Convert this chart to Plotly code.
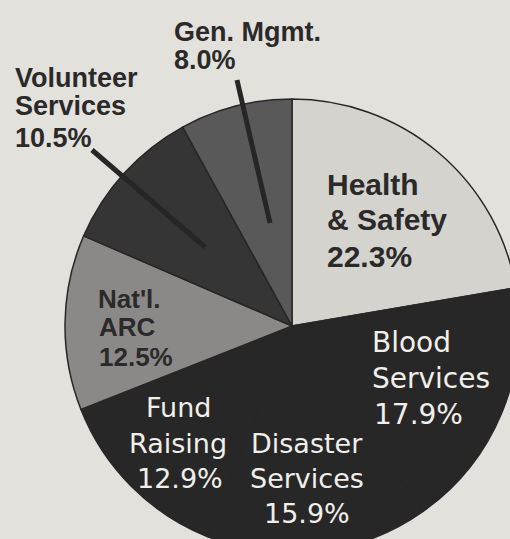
import plotly.graph_objects as go

# ---- data ----
categories = ["Health & Safety", "Blood Services", "Disaster Services", "Fund Raising",
              "Nat'l. ARC", "Volunteer Services", "Gen. Mgmt."]
shares = [22.3, 17.9, 15.9, 12.9, 12.5, 10.5, 8.0]
slice_colors = ["#d5d3ce", "#282728", "#282728", "#282728", "#8b8987", "#363536", "#5a5959"]

# ---- figure geometry ----
W, H = 520, 554
CX, CY, R = 292, 326, 227          # pie centre / radius in pixels (from top-left)
BG = "#e3e1dc"
DARK_TXT = "#2b2a2a"
LIGHT_TXT = "#f1efea"

def px(x):
    return x / W

def py(y):
    return 1 - y / H

fig = go.Figure(go.Pie(
    labels=categories,
    values=shares,
    sort=False,
    direction="clockwise",
    rotation=0,
    textinfo="none",
    hoverinfo="label+percent",
    marker=dict(colors=slice_colors, line=dict(color="#282728", width=1.5)),
    domain=dict(x=[px(CX - R), px(CX + R)], y=[py(CY + R), py(CY - R)]),
    showlegend=False,
))

# label lines: (text, x, y, anchor, size, bold, colour, family)
BOLD = "Liberation Sans, Arial, sans-serif"
REG = "DejaVu Sans, sans-serif"
label_lines = [
    ("Gen. Mgmt.", 172, 32, "left", 27, True, DARK_TXT, BOLD),
    ("8.0%", 172, 60, "left", 27, True, DARK_TXT, BOLD),
    ("Volunteer", 13, 78, "left", 27, True, DARK_TXT, BOLD),
    ("Services", 13, 106, "left", 27, True, DARK_TXT, BOLD),
    ("10.5%", 13, 138, "left", 27, True, DARK_TXT, BOLD),
    ("Health", 325, 184, "left", 30, True, DARK_TXT, BOLD),
    ("& Safety", 325, 219, "left", 30, True, DARK_TXT, BOLD),
    ("22.3%", 325, 256, "left", 30, True, DARK_TXT, BOLD),
    ("Nat'l.", 96, 299, "left", 26, True, DARK_TXT, BOLD),
    ("ARC", 97, 327, "left", 26, True, DARK_TXT, BOLD),
    ("12.5%", 97, 357, "left", 26, True, DARK_TXT, BOLD),
    ("Blood", 370, 342, "left", 28, False, LIGHT_TXT, REG),
    ("Services", 370, 378, "left", 28, False, LIGHT_TXT, REG),
    ("17.9%", 372, 414, "left", 28, False, LIGHT_TXT, REG),
    ("Fund", 178, 407, "center", 27, False, LIGHT_TXT, REG),
    ("Raising", 178, 443, "center", 27, False, LIGHT_TXT, REG),
    ("12.9%", 180, 478, "center", 27, False, LIGHT_TXT, REG),
    ("Disaster", 307, 443, "center", 27, False, LIGHT_TXT, REG),
    ("Services", 307, 478, "center", 27, False, LIGHT_TXT, REG),
    ("15.9%", 307, 513, "center", 27, False, LIGHT_TXT, REG),
]

annotations = []
for text, x, y, anchor, size, bold, color, fam in label_lines:
    annotations.append(dict(
        text=text, x=px(x), y=py(y), xref="paper", yref="paper",
        xanchor=anchor, yanchor="middle", showarrow=False,
        font=dict(family=fam, size=size, color=color, weight="bold" if bold else "normal"),
    ))

# leader lines from outside labels into their slices
leaders = [((92, 150), (205, 247)), ((237, 80), (270, 223))]
shapes = []
for (x0, y0), (x1, y1) in leaders:
    shapes.append(dict(type="line", xref="paper", yref="paper",
                       x0=px(x0), y0=py(y0), x1=px(x1), y1=py(y1),
                       line=dict(color="#272626", width=5)))

fig.update_layout(
    width=W, height=H,
    margin=dict(l=0, r=0, t=0, b=0),
    paper_bgcolor=BG, plot_bgcolor=BG,
    annotations=annotations,
    shapes=shapes,
)

fig.write_html(
    "out.html",
    config={"displayModeBar": False},
    post_script="document.body.style.margin='0px';document.body.style.overflow='hidden';"
                "document.documentElement.style.overflow='hidden';",
)
